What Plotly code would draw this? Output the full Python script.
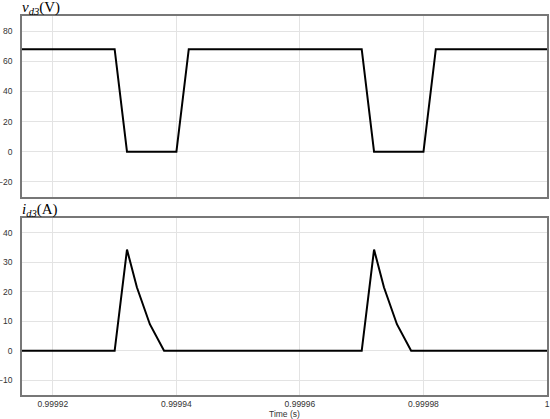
import plotly.graph_objects as go
from plotly.subplots import make_subplots

# voltage across d3
vd3_t = [0.999915, 0.99993, 0.999932, 0.99994, 0.999942, 0.99997, 0.999972, 0.99998, 0.999982, 1.0]
vd3_v = [68, 68, 0, 0, 68, 68, 0, 0, 68, 68]

# current through d3
id3_t = [0.999915, 0.99993, 0.999932, 0.9999336, 0.9999357, 0.999938,
         0.99997, 0.999972, 0.9999736, 0.9999757, 0.999978, 1.0]
id3_v = [0, 0, 34.3, 21.5, 9, 0, 0, 34.3, 21.5, 9, 0, 0]

x_ticks = [0.99992, 0.99994, 0.99996, 0.99998, 1.0]
x_ticktext = ['0.99992', '0.99994', '0.99996', '0.99998', '1']
v_ticks = [-20, 0, 20, 40, 60, 80]
i_ticks = [-10, 0, 10, 20, 30, 40]

fig = make_subplots(rows=2, cols=1, shared_xaxes=True, vertical_spacing=0.055)

fig.add_trace(go.Scatter(x=vd3_t, y=vd3_v, mode='lines',
                         line=dict(color='black', width=2)), row=1, col=1)
fig.add_trace(go.Scatter(x=id3_t, y=id3_v, mode='lines',
                         line=dict(color='black', width=2)), row=2, col=1)

tickfont = dict(family='Liberation Sans, Arial', size=8.5, color='#333')
for r in (1, 2):
    fig.update_xaxes(range=[0.999915, 1.0], tickvals=x_ticks, ticktext=x_ticktext,
                     showgrid=True, gridcolor='#e3e3e3', gridwidth=1,
                     showline=True, linecolor='#777', linewidth=1.5, mirror=True,
                     zeroline=False, ticks='', tickfont=tickfont, automargin=False,
                     row=r, col=1)
fig.update_xaxes(showticklabels=False, row=1, col=1)

fig.update_yaxes(range=[-30, 90], tickvals=v_ticks, row=1, col=1)
fig.update_yaxes(range=[-15, 45], tickvals=i_ticks, row=2, col=1)
fig.update_yaxes(showgrid=True, gridcolor='#e3e3e3', gridwidth=1,
                 showline=True, linecolor='#777', linewidth=1.5, mirror=True,
                 zeroline=False, ticks='', tickfont=tickfont, ticklabelstandoff=6,
                 automargin=False)

fig.update_layout(
    width=550, height=419,
    margin=dict(l=22, r=3, t=16, b=24),
    plot_bgcolor='white', paper_bgcolor='white',
    showlegend=False,
)
fig.update_yaxes(domain=[0.5224, 1.0], row=1, col=1)
fig.update_yaxes(domain=[0.0, 0.467], row=2, col=1)

fig.add_annotation(text='Time (s)', xref='paper', yref='paper', x=0.5, y=0,
                   xanchor='center', yanchor='top', showarrow=False, yshift=-12,
                   font=dict(family='Liberation Sans, Arial', size=8.5, color='#333'))

titlefont = dict(family='Liberation Serif, Times New Roman', size=15, color='black')
fig.add_annotation(text='<i>v</i><sub><i>d3</i></sub>(V)', xref='paper', yref='paper',
                   x=0, y=1.0, xanchor='left', yanchor='bottom', showarrow=False,
                   font=titlefont, xshift=-2, yshift=-3)
fig.add_annotation(text='<i>i</i><sub><i>d3</i></sub>(A)', xref='paper', yref='paper',
                   x=0, y=0.467, xanchor='left', yanchor='bottom', showarrow=False,
                   font=titlefont, xshift=-2, yshift=-3)

fig.write_html("out.html", config={'displayModeBar': False},
               post_script="document.body.style.margin='0';")
